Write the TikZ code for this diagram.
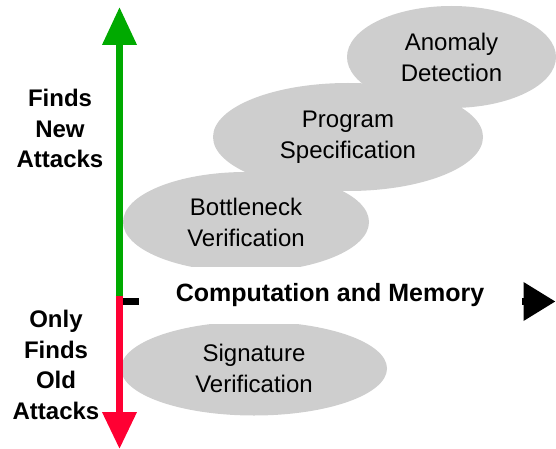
\documentclass[tikz,border=0pt]{standalone}
\usepackage{fontspec}
\setmainfont{Liberation Sans}
\usetikzlibrary{shapes.geometric,arrows.meta}
\definecolor{ellgray}{RGB}{206,206,206}
\definecolor{axgreen}{RGB}{0,170,0}
\definecolor{axred}{RGB}{255,0,51}
\begin{document}
\begin{tikzpicture}[x=1pt,y=-1pt,
  blob/.style={ellipse, fill=ellgray, inner sep=0pt, align=center,
    font=\fontsize{24}{31}\selectfont},
  sidelabel/.style={align=center, inner sep=0pt,
    font=\fontsize{24}{30.5}\selectfont\bfseries},
  axisline/.style={line width=7pt}]
\useasboundingbox (0,0) rectangle (556,449);

% ellipses
\node[blob, minimum width=209pt, minimum height=102pt] (anom) at (451.5,57) {Anomaly\\Detection};
\node[blob, minimum width=270pt, minimum height=108pt] (prog) at (348,137) {Program\\Specification};
\node[blob, minimum width=246pt, minimum height=100pt] (bott) at (246,222) {Bottleneck\\Verification};
\node[blob, minimum width=266pt, minimum height=94pt] (sig) at (254,368.5) {Signature\\Verification};

% horizontal axis
\coordinate (hs) at (119.5,301.5);
\coordinate (he) at (555.5,301.5);
\draw[axisline, -{Triangle[length=32pt,width=37pt]}] (hs) -- (he);
\node[fill=white, inner sep=0pt, minimum width=383pt, minimum height=57pt,
  font=\fontsize{25}{30}\selectfont\bfseries] (comp) at (330,295.5) {Computation and Memory};

% vertical axis
\coordinate (vm) at (119.5,295.5);
\coordinate (vt) at (119.5,7);
\coordinate (vb) at (119.5,449);
\draw[axisline, axgreen, -{Triangle[length=38pt,width=33pt]}] (vm) -- (vt);
\draw[axisline, axred, -{Triangle[length=37pt,width=33pt]}] (vm) -- (vb);

% side labels
\node[sidelabel] (newatt) at (60,128.5) {Finds\\New\\Attacks};
\node[sidelabel] (oldatt) at (56,365) {Only\\Finds\\Old\\Attacks};
\end{tikzpicture}
\end{document}
